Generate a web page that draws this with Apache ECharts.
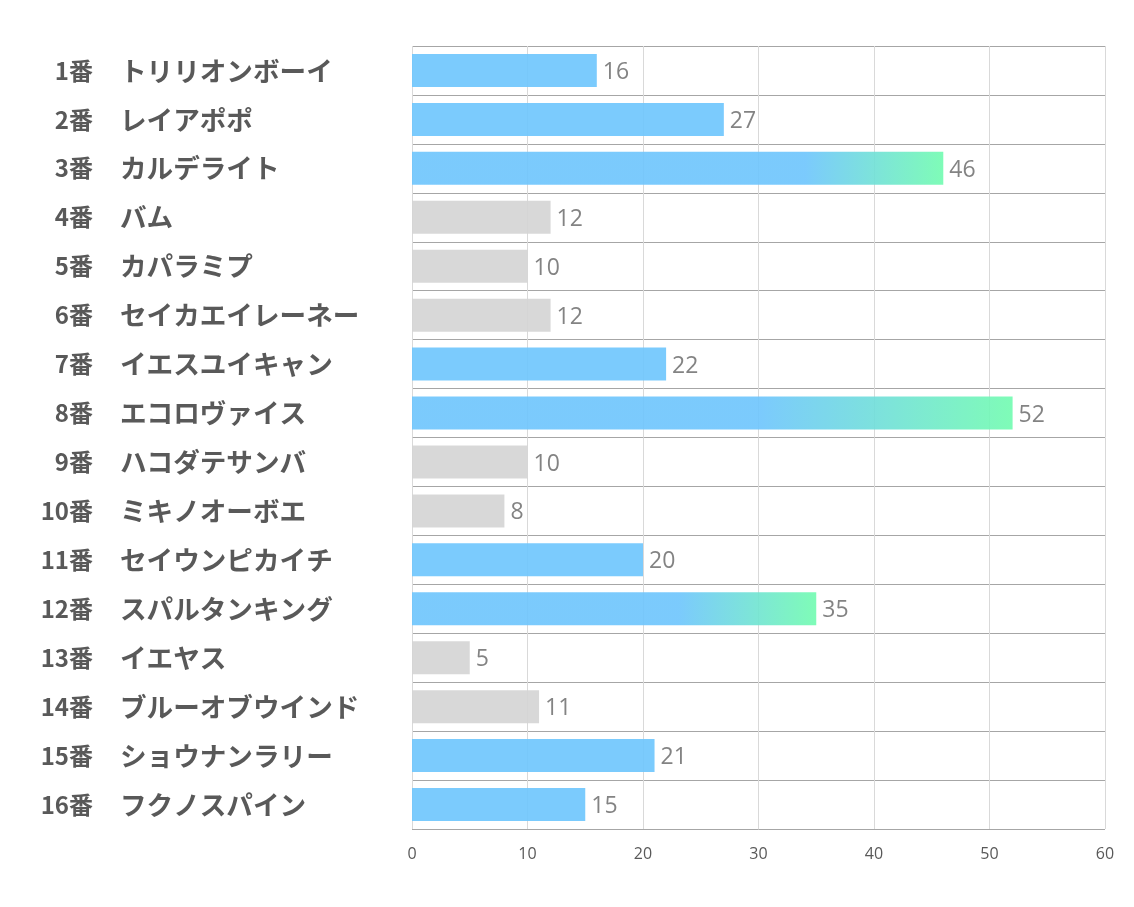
<!DOCTYPE html>
<html><head><meta charset="utf-8">
<script src="https://cdn.jsdelivr.net/npm/echarts@6/dist/echarts.min.js"></script>
<style>html,body{margin:0;padding:0;background:#fff}#c{width:1134px;height:907px}</style>
</head><body><div id="c"></div>
<script>
const numbers = ['1番','2番','3番','4番','5番','6番','7番','8番','9番','10番','11番','12番','13番','14番','15番','16番'];
const names = ['トリリオンボーイ','レイアポポ','カルデライト','バム','カパラミプ','セイカエイレーネー','イエスユイキャン','エコロヴァイス','ハコダテサンバ','ミキノオーボエ','セイウンピカイチ','スパルタンキング','イエヤス','ブルーオブウインド','ショウナンラリー','フクノスパイン'];
const values = [16,27,46,12,10,12,22,52,10,8,20,35,5,11,21,15];
// b = blue, g = gray, x = blue→green gradient
const kinds = ['b','b','x','g','g','g','b','x','g','g','b','x','g','g','b','b'];
const xTicks = [0,10,20,30,40,50,60];

const BLUE = 'rgb(109,197,253)', GRAY = 'rgb(212,212,212)', GREEN = 'rgb(113,252,176)';
const gradStart = {46:0.74, 52:0.58, 35:0.66};
const data = values.map((v,i)=>{
  let color = kinds[i]==='g' ? GRAY : BLUE;
  if (kinds[i]==='x') {
    color = new echarts.graphic.LinearGradient(0,0,1,0,[
      {offset:0,color:BLUE},{offset:gradStart[v]||0.6,color:BLUE},{offset:1,color:GREEN}]);
  }
  return {value:v, itemStyle:{color, opacity:0.9}};
});

const chart = echarts.init(document.getElementById('c'));
const hidden = {axisLine:{show:false},axisTick:{show:false}};
chart.setOption({
  animation:false,
  grid:{left:412,right:29,top:46,bottom:78,containLabel:false},
  xAxis:{type:'value',min:xTicks[0],max:xTicks[xTicks.length-1],interval:10,
    axisLine:{show:false},axisTick:{show:false},
    axisLabel:{color:'#595959',fontSize:16,margin:17,fontFamily:'Open Sans'},
    splitLine:{show:true,lineStyle:{color:'#d9d9d9',width:1}}},
  yAxis:[
    Object.assign({type:'category',inverse:true,data:numbers,position:'left',
      splitLine:{show:true,lineStyle:{color:'#a6a6a6',width:1}},
      axisLabel:{margin:319,align:'right',fontSize:24,fontWeight:'bold',color:'#595959',fontFamily:'Noto Sans CJK JP'}},hidden),
    Object.assign({type:'category',inverse:true,data:names,position:'left',offset:0,
      splitLine:{show:false},
      axisLabel:{margin:292,align:'left',fontSize:26.6,fontWeight:'bold',color:'#595959',fontFamily:'Noto Sans CJK JP'}},hidden)
  ],
  series:[{type:'bar',data:data,barWidth:33,yAxisIndex:0,
    label:{show:true,position:'right',distance:6,offset:[0,2],color:'#767676',fontSize:23,fontFamily:'Open Sans'}}]
});
</script></body></html>
